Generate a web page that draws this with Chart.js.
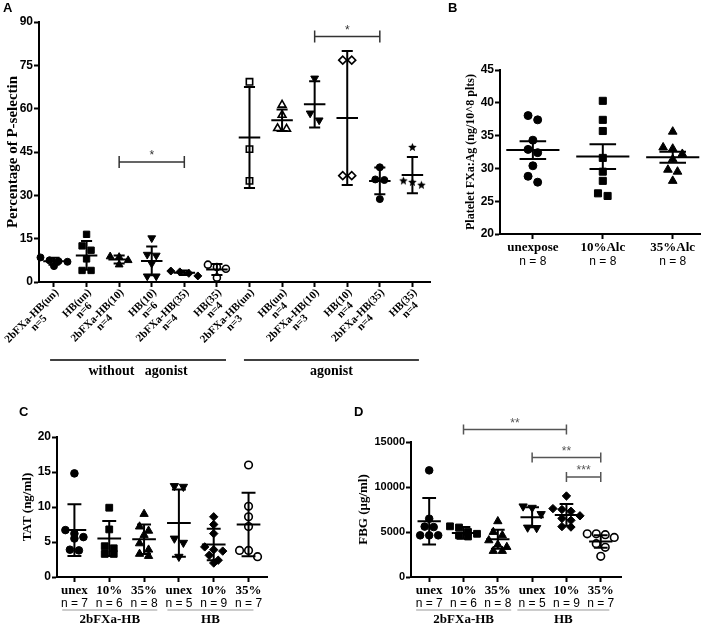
<!DOCTYPE html>
<html>
<head>
<meta charset="utf-8">
<script src="https://cdn.jsdelivr.net/npm/chart.js@4.4.1/dist/chart.umd.min.js"></script>
<style>
  html, body { margin: 0; padding: 0; background: #fff; }
  body { width: 708px; height: 626px; position: relative; overflow: hidden; }
  canvas { position: absolute; }
  .lab { position: absolute; z-index: 2; font: bold 13px "Liberation Sans", Arial, sans-serif; line-height: 13px; }
</style>
</head>
<body>
<div class="lab" style="left:3px;top:1px">A</div>
<div class="lab" style="left:448px;top:1px">B</div>
<div class="lab" style="left:19px;top:405px">C</div>
<div class="lab" style="left:354px;top:405px">D</div>
<canvas id="cA" width="440" height="392" style="left:0;top:0"></canvas>
<canvas id="cB" width="248" height="290" style="left:460px;top:0"></canvas>
<canvas id="cC" width="354" height="226" style="left:0;top:400px"></canvas>
<canvas id="cD" width="354" height="226" style="left:354px;top:400px"></canvas>
<script>
const SERIF = '"Liberation Serif", "Times New Roman", serif';
const SANS = '"Liberation Sans", Arial, sans-serif';

// ---------- data, panel A (percentage of P-selectin)
const catsA = ['2bFXa-HB(un)', 'HB(un)', '2bFXa-HB(10)', 'HB(10)', '2bFXa-HB(35)', 'HB(35)',
               '2bFXa-HB(un)', 'HB(un)', '2bFXa-HB(10)', 'HB(10)', '2bFXa-HB(35)', 'HB(35)'];
const nA = ['n=5', 'n=6', 'n=4', 'n=6', 'n=4', 'n=4', 'n=3', 'n=4', 'n=3', 'n=4', 'n=4', 'n=4'];
const groupsA = ['without   agonist', 'agonist'];
const valuesA = [
  [8.5, 7.5, 7.2, 7.0, 5.5],
  [16.5, 12.5, 11, 8, 4, 4],
  [8.8, 8.6, 7.5, 6],
  [15.2, 9.5, 9.2, 6.4, 2, 2],
  [3.8, 3.5, 3, 2.1],
  [6, 5.2, 4.6, 1.5],
  [69.3, 46, 35],
  [61.3, 57.8, 53.2, 53],
  [70.5, 58.4, 56],
  [76.8, 76.8, 36.8, 36.8],
  [39.7, 35.5, 35.3, 28.7],
  [46.6, 35, 34.5, 33.5]
];
const meanA = [7.2, 9.2, 7.8, 7.3, 3.2, 4.3, 50, 56, 61.5, 56.8, 35, 37];
const sdA = [1.2, 5, 1.4, 5, 0.8, 1.9, 17.5, 3.7, 8, 23.2, 4.6, 6.3];
const sigA = [[3, 5, '*', 41.5], [9, 11, '*', 85]];

// ---------- data, panel B (platelet FXa:Ag)
const catsB = ['unexpose', '10%Alc', '35%Alc'];
const nB = ['n = 8', 'n = 8', 'n = 8'];
const valuesB = [
  [38.05, 37.4, 34.3, 32.9, 32.4, 30.4, 28.8, 27.9],
  [40.3, 37.4, 35.7, 31.6, 29.5, 28.1, 26.2, 25.8],
  [35.6, 33.2, 33.0, 32.2, 31.4, 29.8, 29.5, 28.1]
];
const meanB = [32.8, 31.8, 31.7];
const semB = [1.35, 1.9, 0.85];

// ---------- data, panel C (TAT)
const catsC = ['unex', '10%', '35%', 'unex', '10%', '35%'];
const nC = ['n = 7', 'n = 6', 'n = 8', 'n = 5', 'n = 9', 'n = 7'];
const groupsC = ['2bFXa-HB', 'HB'];
const valuesC = [
  [14.8, 6.7, 6.2, 5.7, 5.5, 3.9, 3.8],
  [9.9, 6.8, 4.4, 4.1, 3.3, 3.3],
  [9.0, 7.2, 6.6, 6.0, 4.8, 3.9, 3.3, 3.0],
  [13.0, 12.9, 5.5, 4.9, 2.9],
  [8.6, 7.5, 6.2, 4.3, 3.9, 3.7, 3.1, 2.4, 2.0],
  [16.0, 10.1, 8.6, 7.2, 3.8, 3.8, 2.9]
];
const meanC = [6.7, 5.5, 5.4, 7.7, 4.65, 7.5];
const sdC = [3.7, 2.5, 2.1, 4.8, 2.25, 4.55];

// ---------- data, panel D (FBG)
const catsD = ['unex', '10%', '35%', 'unex', '10%', '35%'];
const nD = ['n = 7', 'n = 6', 'n = 8', 'n = 5', 'n = 9', 'n = 7'];
const groupsD = ['2bFXa-HB', 'HB'];
const valuesD = [
  [11850, 6480, 5600, 5550, 4630, 4630, 4630],
  [5630, 5500, 5000, 4800, 4630, 4500],
  [6190, 5000, 4630, 4070, 3590, 3330, 2890, 2890],
  [7850, 7700, 7000, 5500, 5450],
  [9000, 7600, 7500, 7300, 6800, 6500, 6300, 5600, 5550],
  [4800, 4800, 4700, 4400, 3700, 3300, 2300]
];
const meanD = [6200, 4900, 4200, 6650, 6900, 3950];
const sdD = [2575, 650, 1050, 1110, 1200, 700];
const sigD = [[2, 5, '**', 16380], [4, 6, '**', 13270], [5, 6, '***', 11110]];

// ---------- helpers
function starImg(r) {
  const c = document.createElement('canvas');
  const s = Math.ceil(r * 2) + 2;
  c.width = c.height = s;
  const g = c.getContext('2d');
  g.fillStyle = '#000';
  g.beginPath();
  for (let k = 0; k < 10; k++) {
    const a = -Math.PI / 2 + k * Math.PI / 5;
    const rr = k % 2 ? r * 0.45 : r;
    g.lineTo(s / 2 + rr * Math.cos(a), s / 2 + rr * Math.sin(a));
  }
  g.closePath();
  g.fill();
  return c;
}

// spread points that sit at nearly the same height side by side
function swarm(vals, center, pxX, pxY, r) {
  const idx = vals.map((v, i) => i).sort((a, b) => vals[b] - vals[a]);
  const xs = new Array(vals.length);
  let row = [];
  const flush = () => {
    row.forEach((k, j) => { xs[k] = center + (j - (row.length - 1) / 2) * 2 * r / pxX; });
    row = [];
  };
  idx.forEach(k => {
    if (row.length && (vals[row[0]] - vals[k]) * pxY > 1.7 * r) flush();
    row.push(k);
  });
  flush();
  return xs;
}

const errorBars = {
  id: 'errorBars',
  afterDatasetsDraw(chart, args, o) {
    if (!o.mean) return;
    const { ctx, scales: { x, y } } = chart;
    const unit = x.getPixelForValue(2) - x.getPixelForValue(1);
    ctx.save();
    ctx.strokeStyle = '#000';
    ctx.lineWidth = o.lw;
    o.mean.forEach((m, i) => {
      const cx = x.getPixelForValue(i + 1);
      const ym = y.getPixelForValue(m);
      const yt = y.getPixelForValue(m + o.err[i]);
      const yb = y.getPixelForValue(m - o.err[i]);
      const hm = o.meanHalf * unit, hc = o.capHalf * unit;
      ctx.beginPath();
      ctx.moveTo(cx - hm, ym); ctx.lineTo(cx + hm, ym);
      ctx.moveTo(cx, yt); ctx.lineTo(cx, yb);
      ctx.moveTo(cx - hc, yt); ctx.lineTo(cx + hc, yt);
      ctx.moveTo(cx - hc, yb); ctx.lineTo(cx + hc, yb);
      ctx.stroke();
    });
    ctx.restore();
  }
};

const annot = {
  id: 'annot',
  afterDraw(chart, args, o) {
    const { ctx, scales: { x, y } } = chart;
    ctx.save();
    // rotated category labels (panel A)
    if (o.rot) {
      const r = o.rot;
      ctx.fillStyle = '#000';
      ctx.font = 'bold ' + r.size + 'px ' + SERIF;
      ctx.textBaseline = 'middle';
      r.cats.forEach((c, i) => {
        ctx.save();
        ctx.translate(x.getPixelForValue(i + 1) + r.dx, x.top + r.dy);
        ctx.rotate(-Math.PI / 4);
        ctx.textAlign = 'right';
        ctx.fillText(c, 0, 0);
        const w = ctx.measureText(c).width;
        ctx.textAlign = 'center';
        ctx.fillText(r.n[i], -w / 2, r.lh);
        ctx.restore();
      });
    }
    // group underlines
    if (o.groups) {
      const g = o.groups;
      g.names.forEach((name, i) => {
        const x1 = x.getPixelForValue(g.spans[i][0]);
        const x2 = x.getPixelForValue(g.spans[i][1]);
        ctx.strokeStyle = g.color;
        ctx.lineWidth = g.lw;
        ctx.beginPath();
        ctx.moveTo(x1, g.lineY); ctx.lineTo(x2, g.lineY);
        ctx.stroke();
        ctx.fillStyle = '#000';
        ctx.font = 'bold ' + g.size + 'px ' + SERIF;
        ctx.textAlign = 'center';
        ctx.textBaseline = 'middle';
        ctx.fillText(name, (x1 + x2) / 2, g.textY);
      });
    }
    // significance brackets
    if (o.sig) {
      const s = o.sig;
      s.items.forEach(([a, b, txt, lvl]) => {
        const x1 = x.getPixelForValue(a), x2 = x.getPixelForValue(b);
        const yy = y.getPixelForValue(lvl);
        ctx.strokeStyle = s.color;
        ctx.lineWidth = s.lw;
        ctx.beginPath();
        ctx.moveTo(x1, yy); ctx.lineTo(x2, yy);
        ctx.moveTo(x1, yy - s.h); ctx.lineTo(x1, yy + s.h);
        ctx.moveTo(x2, yy - s.h); ctx.lineTo(x2, yy + s.h);
        ctx.stroke();
        ctx.fillStyle = s.color;
        ctx.font = s.size + 'px ' + SANS;
        ctx.textAlign = 'center';
        ctx.textBaseline = 'middle';
        ctx.fillText(txt, (x1 + x2) / 2, yy - s.up);
      });
    }
    ctx.restore();
  }
};

const axisLine = {
  grid: { drawOnChartArea: false, drawTicks: true, tickLength: 5, tickWidth: 2, tickColor: '#000' },
  border: { color: '#000', width: 2 }
};

function panel(id, p) {
  const datasets = p.values.map((vals, i) => {
    const mk = p.markers[i];
    const xs = swarm(vals, i + 1, p.pxX, p.pxY, p.sep);
    return {
      data: vals.map((v, j) => ({ x: xs[j], y: v })),
      pointStyle: mk.s,
      rotation: mk.rot || 0,
      pointRadius: mk.r,
      pointHoverRadius: mk.r,
      backgroundColor: mk.open ? '#fff' : '#000',
      borderColor: '#000',
      borderWidth: mk.open ? 1.6 : 1,
      clip: false
    };
  });
  const setTicks = s => { s.ticks = p.values.map((_, i) => ({ value: i + 1 })); };
  const scales = {
    x: {
      type: 'linear', min: p.xMin, max: p.xMax,
      afterBuildTicks: setTicks,
      afterFit: s => { s.height = p.xH; },
      grid: axisLine.grid, border: axisLine.border,
      ticks: {
        display: !!p.cats, autoSkip: false, maxRotation: 0, minRotation: 0, padding: 1, color: '#000',
        font: { family: SERIF, weight: 'bold', size: 13, lineHeight: 1.2 },
        callback: v => p.cats ? p.cats[Math.round(v) - 1] : ''
      }
    },
    y: {
      min: p.yMin, max: p.yMax,
      afterFit: s => { s.width = p.yW; },
      grid: axisLine.grid, border: axisLine.border,
      ticks: {
        stepSize: p.yStep, padding: 1, color: '#000',
        font: { family: SANS, weight: 'bold', size: p.yFont },
        callback: v => String(v)
      },
      title: {
        display: true, text: p.yTitle, color: '#000',
        font: { family: SERIF, weight: 'bold', size: p.titleSize, lineHeight: 1.2 },
        padding: { top: p.titlePad, bottom: 0 }
      }
    }
  };
  if (p.nLabels) {
    scales.x2 = {
      type: 'linear', axis: 'x', position: 'bottom', weight: 1, min: p.xMin, max: p.xMax,
      afterBuildTicks: setTicks,
      afterFit: s => { s.height = p.x2H; },
      grid: { display: false, drawTicks: false },
      border: { display: false },
      ticks: {
        autoSkip: false, maxRotation: 0, minRotation: 0, padding: 0, color: '#000',
        font: { family: SANS, size: 12, lineHeight: 1.2 },
        callback: v => p.nLabels[Math.round(v) - 1]
      }
    };
  }
  return new Chart(document.getElementById(id), {
    type: 'scatter',
    data: { datasets },
    options: {
      responsive: false, animation: false, events: [],
      layout: { padding: p.padding },
      scales,
      plugins: {
        legend: { display: false }, tooltip: { enabled: false },
        errorBars: p.bars,
        annot: p.annot || {}
      }
    },
    plugins: [errorBars, annot]
  });
}

// ---------- marker styles
const star = starImg(4.5);
const markA = [
  { s: 'circle', r: 3.5 }, { s: 'rect', r: 4.5 }, { s: 'triangle', r: 4.5 },
  { s: 'triangle', r: 4.5, rot: 180 }, { s: 'rectRot', r: 4 }, { s: 'circle', r: 3.5, open: true },
  { s: 'rect', r: 4.5, open: true }, { s: 'triangle', r: 4.5, open: true }, { s: 'triangle', r: 4.5, rot: 180 },
  { s: 'rectRot', r: 4, open: true }, { s: 'circle', r: 3.5 }, { s: star, r: 4.5 }
];
const markB = [{ s: 'circle', r: 4 }, { s: 'rect', r: 5 }, { s: 'triangle', r: 5 }];
const markCD = [
  { s: 'circle', r: 3.8 }, { s: 'rect', r: 4.8 }, { s: 'triangle', r: 4.8 },
  { s: 'triangle', r: 4.8, rot: 180 }, { s: 'rectRot', r: 4.2 }, { s: 'circle', r: 3.8, open: true }
];

panel('cA', {
  values: valuesA, markers: markA, pxX: 32.6, pxY: 2.889, sep: 4.5,
  xMin: 0.54, xMax: 12.54, xH: 110, yW: 39, yMin: 0, yMax: 90, yStep: 15, yFont: 12,
  yTitle: 'Percentage of P-selectin', titleSize: 15, titlePad: 4,
  padding: { top: 22, right: 10, left: 0, bottom: 0 },
  bars: { mean: meanA, err: sdA, lw: 2, meanHalf: 0.33, capHalf: 0.17 },
  annot: {
    rot: { cats: catsA, n: nA, size: 11, lh: 10, dx: 3, dy: 9 },
    groups: { names: groupsA, spans: [[0.88, 6.28], [6.83, 12.2]], lineY: 360, textY: 371, size: 14, color: '#000', lw: 1.5 },
    sig: { items: sigA, color: '#333', lw: 1.5, h: 6, up: 6, size: 12 }
  }
});

panel('cB', {
  values: valuesB, markers: markB, pxX: 70, pxY: 6.57, sep: 4.8, cats: catsB, nLabels: nB,
  xMin: 0.53, xMax: 3.39, xH: 20, x2H: 16, yW: 40, yMin: 20, yMax: 45, yStep: 5, yFont: 12,
  yTitle: 'Platelet FXa:Ag (ng/10^8 plts)', titleSize: 12, titlePad: 4,
  padding: { top: 70, right: 8, left: 0, bottom: 20 },
  bars: { mean: meanB, err: semB, lw: 2, meanHalf: 0.38, capHalf: 0.19 }
});

panel('cC', {
  values: valuesC, markers: markCD, pxX: 34.8, pxY: 7, sep: 4.5, cats: catsC, nLabels: nC,
  xMin: 0.5, xMax: 6.53, xH: 19, x2H: 14, yW: 57, yMin: 0, yMax: 20, yStep: 5, yFont: 12,
  yTitle: 'TAT (ng/ml)', titleSize: 13, titlePad: 20,
  padding: { top: 37, right: 87, left: 0, bottom: 16 },
  bars: { mean: meanC, err: sdC, lw: 2, meanHalf: 0.34, capHalf: 0.2 },
  annot: {
    groups: { names: groupsC, spans: [[0.65, 3.38], [3.67, 6.14]], lineY: 210, textY: 220, size: 13, color: '#999', lw: 1 }
  }
});

panel('cD', {
  values: valuesD, markers: markCD, pxX: 34.3, pxY: 0.009, sep: 4.5, cats: catsD, nLabels: nD,
  xMin: 0.47, xMax: 6.59, xH: 19, x2H: 14, yW: 57, yMin: 0, yMax: 15000, yStep: 5000, yFont: 11,
  yTitle: 'FBG (μg/ml)', titleSize: 13, titlePad: 2,
  padding: { top: 42, right: 87, left: 0, bottom: 16 },
  bars: { mean: meanD, err: sdD, lw: 2, meanHalf: 0.34, capHalf: 0.2 },
  annot: {
    groups: { names: groupsD, spans: [[0.62, 3.39], [3.57, 6.25]], lineY: 210, textY: 220, size: 13, color: '#999', lw: 1 },
    sig: { items: sigD, color: '#555', lw: 1.5, h: 5, up: 6, size: 12 }
  }
});
</script>
</body>
</html>
